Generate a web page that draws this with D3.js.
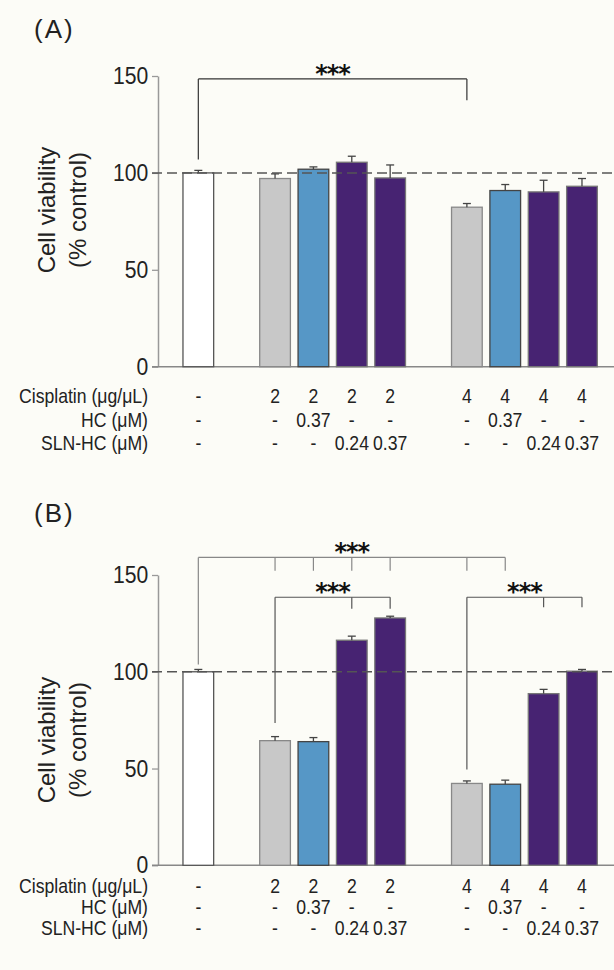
<!DOCTYPE html>
<html>
<head>
<meta charset="utf-8">
<script src="https://cdn.jsdelivr.net/npm/d3@7"></script>
<style>
  html, body { margin: 0; padding: 0; background: #fcfcf7; }
  svg { display: block; font-family: "Liberation Sans", Arial, sans-serif; }
</style>
</head>
<body>
<div id="chart"></div>
<script>
// values (% of control, mean and upper error)
const slots = [0, 2, 3, 4, 5, 7, 8, 9, 10]
const treatment = ["control", "cis", "hc", "sln", "sln", "cis", "hc", "sln", "sln"]
const meansA = [100, 97.1, 101.9, 105.5, 97.4, 82.3, 90.9, 90.2, 93.1]
const errA = [1.3, 2.4, 1.2, 3.1, 6.7, 1.9, 3.1, 6.0, 4.0]
const meansB = [100, 64.4, 63.9, 116.3, 127.8, 42.3, 41.9, 88.7, 100.3]
const errB = [1.2, 2.1, 2.1, 2.1, 0.9, 1.3, 2.1, 2.2, 0.9]
const yTicks = [0, 50, 100, 150]
const refLine = 100

const rowLabels = ["Cisplatin (\u03bcg/\u03bcL)", "HC (\u03bcM)", "SLN-HC (\u03bcM)"]
const cisplatin = ["-", "2", "2", "2", "2", "4", "4", "4", "4"]
const hc = ["-", "-", "0.37", "-", "-", "-", "0.37", "-", "-"]
const slnHc = ["-", "-", "-", "0.24", "0.37", "-", "-", "0.24", "0.37"]

// significance brackets: level + legs [bar index, leg end value]
const bracketsA = [
  { level: 148.5, legs: [[0, 106.9], [5, 137.5]], label: "***", color: "#333" }
]
const bracketsB = [
  { level: 159.1, legs: [[0, 103.8], [1, 152.2], [2, 152.2], [3, 152.2], [4, 152.2], [5, 152.2], [6, 152.2]], label: "***", color: "#888" },
  { level: 138.5, legs: [[1, 73.5], [3, 132.5], [4, 132.5]], label: "***", color: "#555" },
  { level: 138.5, legs: [[5, 49.5], [7, 133.3], [8, 133.3]], label: "***", color: "#555" }
]

const W = 614, H = 970
const fills = { control: "#ffffff", cis: "#c8c8c8", hc: "#5697c6", sln: "#472372" }
const outlines = { control: "#555", cis: "#888", hc: "#444", sln: "#777" }

const svg = d3.select("#chart").append("svg")
  .attr("width", W).attr("height", H)

svg.append("rect").attr("width", W).attr("height", H).attr("fill", "#fcfcf7")

const x = d3.scaleBand()
  .domain(d3.range(11))
  .range([175.3, 605])
  .padding(0.2)
const cx = i => x(slots[i]) + x.bandwidth() / 2

const panels = [
  { tag: "(A)", means: meansA, errs: errA, brackets: bracketsA, yRange: [366.7, 76],
    labelY: 38, titleY: 210, rows: [403, 427, 450] },
  { tag: "(B)", means: meansB, errs: errB, brackets: bracketsB, yRange: [865.3, 575],
    labelY: 522, titleY: 740, rows: [893, 914, 935] }
]

panels.forEach(p => {
  const g = svg.append("g")
  const y = d3.scaleLinear().domain([0, 150]).range(p.yRange)

  // panel tag
  g.append("text")
    .attr("x", 34).attr("y", p.labelY)
    .attr("font-size", 26).attr("letter-spacing", 2)
    .attr("fill", "#222")
    .text(p.tag)

  // y axis
  const ax = g.append("g")
    .attr("transform", "translate(158,0)")
    .call(d3.axisLeft(y).tickValues(yTicks).tickSize(6).tickSizeOuter(0).tickPadding(5))
  ax.select(".domain").attr("stroke", "#999").attr("stroke-width", 1.5)
  ax.selectAll(".tick line").attr("stroke", "#999").attr("stroke-width", 1.3)
  ax.selectAll(".tick text")
    .attr("font-size", 24).attr("fill", "#222")
    .attr("font-family", "\"Liberation Sans\", Arial, sans-serif")
    .attr("transform", "scale(0.88,1)")

  // x baseline
  g.append("line")
    .attr("x1", 152).attr("x2", W)
    .attr("y1", y(0)).attr("y2", y(0))
    .attr("stroke", "#888").attr("stroke-width", 1.5)

  // axis title
  const title = g.append("text")
    .attr("transform", `translate(0,${p.titleY}) rotate(-90)`)
    .attr("text-anchor", "middle")
    .attr("font-size", 24).attr("fill", "#222")
  title.append("tspan").attr("x", 0).attr("y", 55).text("Cell viability")
  title.append("tspan").attr("x", 0).attr("y", 86).text("(% control)")

  // bars
  g.selectAll("rect.bar")
    .data(p.means).enter().append("rect")
    .attr("class", "bar")
    .attr("x", (d, i) => x(slots[i]))
    .attr("width", x.bandwidth())
    .attr("y", d => y(d))
    .attr("height", d => y(0) - y(d))
    .attr("fill", (d, i) => fills[treatment[i]])
    .attr("stroke", (d, i) => outlines[treatment[i]])
    .attr("stroke-width", 1.3)

  // error bars (upper only)
  const eb = g.selectAll("g.err")
    .data(p.means).enter().append("g")
    .attr("class", "err")
    .attr("stroke", "#444").attr("stroke-width", 1.3)
  eb.append("line")
    .attr("x1", (d, i) => cx(i)).attr("x2", (d, i) => cx(i))
    .attr("y1", d => y(d)).attr("y2", (d, i) => y(d + p.errs[i]))
  eb.append("line")
    .attr("x1", (d, i) => cx(i) - 4).attr("x2", (d, i) => cx(i) + 4)
    .attr("y1", (d, i) => y(d + p.errs[i])).attr("y2", (d, i) => y(d + p.errs[i]))

  // reference line at 100 %
  g.append("line")
    .attr("x1", 152).attr("x2", W)
    .attr("y1", y(refLine)).attr("y2", y(refLine))
    .attr("stroke", "#555").attr("stroke-width", 1.5)
    .attr("stroke-dasharray", "10,5")

  // significance brackets
  p.brackets.forEach(b => {
    const xs = b.legs.map(l => cx(l[0]))
    const x0 = d3.min(xs), x1 = d3.max(xs)
    const bg = g.append("g").attr("stroke", b.color).attr("stroke-width", 1.2).attr("fill", "none")
    bg.append("line")
      .attr("x1", x0).attr("x2", x1)
      .attr("y1", y(b.level)).attr("y2", y(b.level))
    bg.selectAll("line.leg")
      .data(b.legs).enter().append("line")
      .attr("class", "leg")
      .attr("x1", l => cx(l[0])).attr("x2", l => cx(l[0]))
      .attr("y1", y(b.level)).attr("y2", l => y(l[1]))
    g.append("text")
      .attr("x", (x0 + x1) / 2).attr("y", y(b.level) + 3)
      .attr("text-anchor", "middle")
      .attr("font-family", "\"DejaVu Sans\", sans-serif")
      .attr("font-weight", "bold")
      .attr("letter-spacing", -1)
      .attr("font-size", 24).attr("fill", "#111")
      .text(b.label)
  })

  // treatment table under the axis
  const rows = [cisplatin, hc, slnHc]
  rows.forEach((vals, r) => {
    g.append("text")
      .attr("transform", `translate(148,${p.rows[r]}) scale(0.86,1)`)
      .attr("text-anchor", "end")
      .attr("font-size", 20.5).attr("fill", "#222")
      .text(rowLabels[r])
    g.selectAll(null)
      .data(vals).enter().append("text")
      .attr("transform", (d, i) => `translate(${cx(i)},${p.rows[r]}) scale(0.86,1)`)
      .attr("text-anchor", "middle")
      .attr("font-size", 20.5).attr("fill", "#222")
      .text(d => d)
  })
})
</script>
</body>
</html>
